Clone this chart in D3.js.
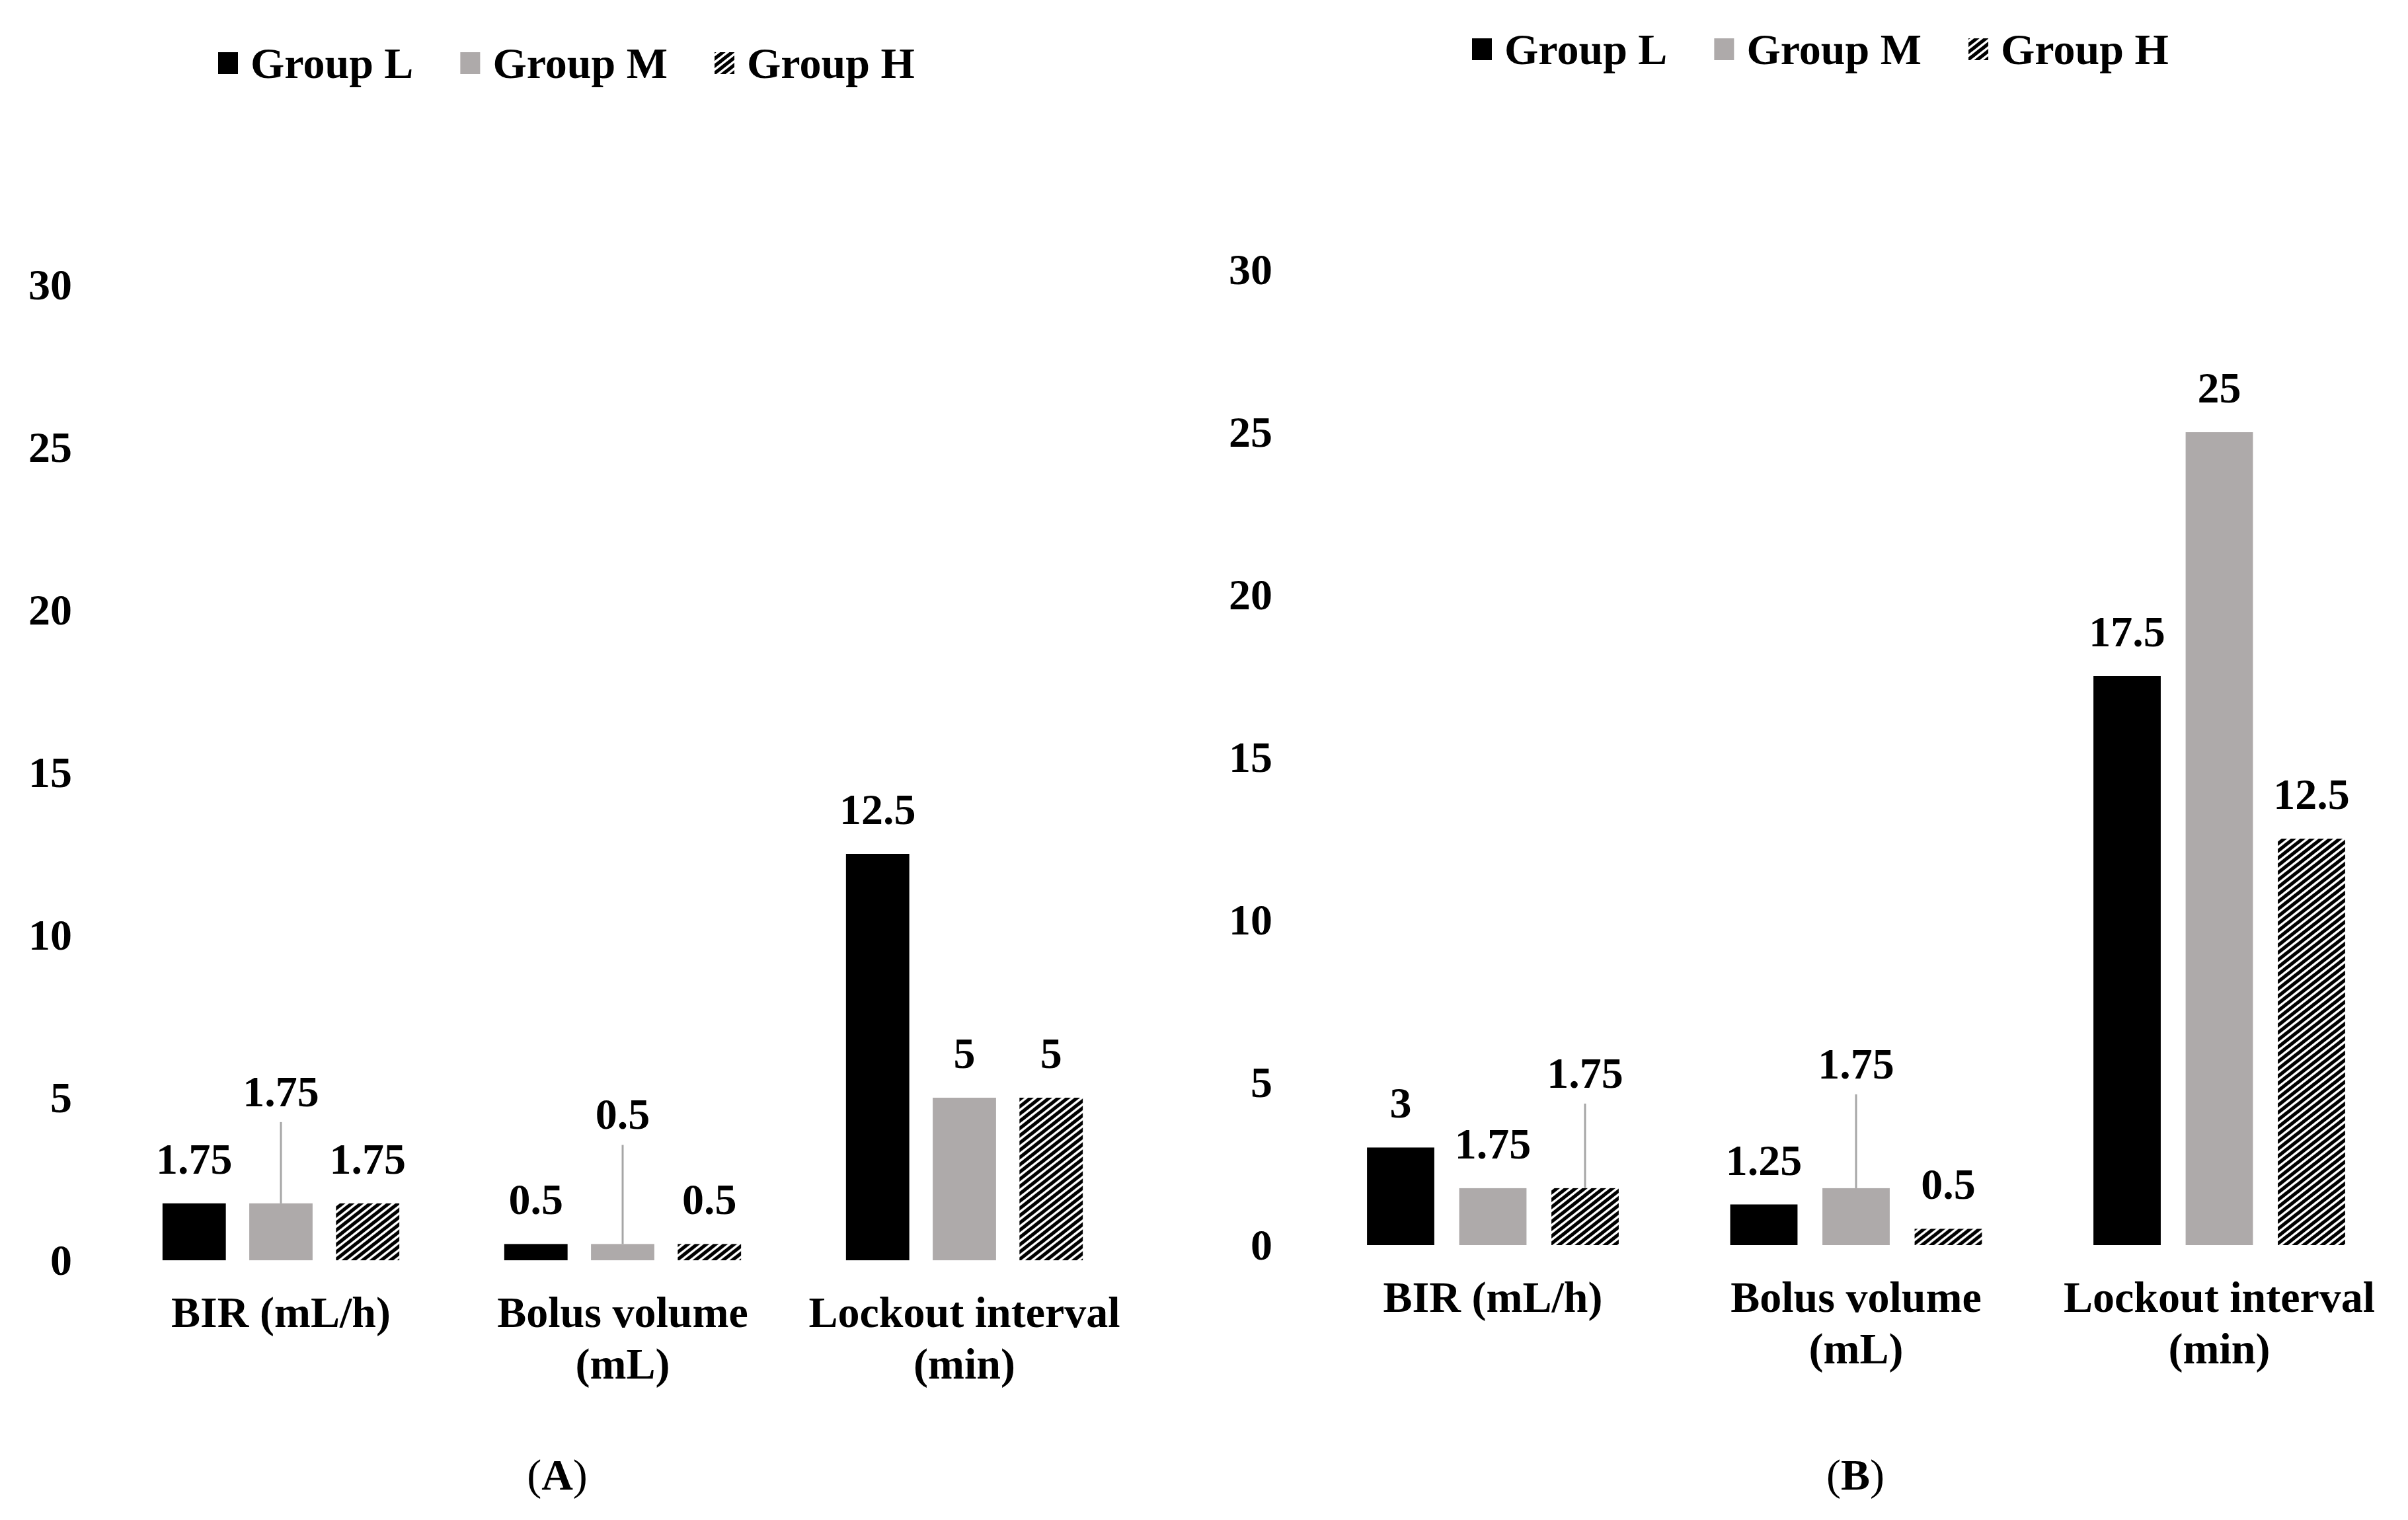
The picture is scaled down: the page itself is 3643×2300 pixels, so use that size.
<!DOCTYPE html>
<html>
<head>
<meta charset="utf-8">
<script src="https://cdn.jsdelivr.net/npm/d3@7"></script>
<style>
    body { margin: 0; background: #fff; }
    svg { display: block; }
    text { font-family: "Liberation Serif", "Times New Roman", serif; font-weight: bold; fill: #000; }
</style>
</head>
<body>
<div id="chart"></div>
<script>
// Data
const categories = ["BIR (mL/h)", "Bolus volume (mL)", "Lockout interval (min)"];
const groups = ["Group L", "Group M", "Group H"];
const yTicks = [0, 5, 10, 15, 20, 25, 30];

const panelA_L = [1.75, 0.5, 12.5];
const panelA_M = [1.75, 0.5, 5];
const panelA_H = [1.75, 0.5, 5];

const panelB_L = [3, 1.25, 17.5];
const panelB_M = [1.75, 1.75, 25];
const panelB_H = [1.75, 0.5, 12.5];

const W = 3643, H = 2300;
const FONT = 66;
const colors = { "Group L": "#000000", "Group M": "#aeaaaa", "Group H": "url(#hatch)" };

const svg = d3.select("#chart").append("svg")
    .attr("width", W)
    .attr("height", H)
    .attr("viewBox", `0 0 ${W} ${H}`);

svg.append("rect").attr("width", W).attr("height", H).attr("fill", "#fff");

// Wide upward diagonal hatch
const pw = 14, ph = 11;
svg.append("defs").append("pattern")
    .attr("id", "hatch")
    .attr("patternUnits", "userSpaceOnUse")
    .attr("width", pw).attr("height", ph)
    .call(p => {
        p.append("rect").attr("width", pw).attr("height", ph).attr("fill", "#fff");
        p.append("path")
            .attr("d", `M0,${ph} L${pw},0 M${-pw / 2},${ph / 2} L${pw / 2},${-ph / 2} M${pw / 2},${ph * 1.5} L${pw * 1.5},${ph / 2}`)
            .attr("stroke", "#000")
            .attr("stroke-width", 5.3);
    });

// simple greedy word wrap
function wrap(sel, maxWidth, lineHeight) {
    sel.each(function () {
        const text = d3.select(this);
        const words = text.text().split(" ");
        text.text(null);
        let line = [];
        let tspan = text.append("tspan").attr("x", 0).attr("dy", 0);
        words.forEach(w => {
            line.push(w);
            tspan.text(line.join(" "));
            if (tspan.node().getComputedTextLength() > maxWidth && line.length > 1) {
                line.pop();
                tspan.text(line.join(" "));
                line = [w];
                tspan = text.append("tspan").attr("x", 0).attr("dy", lineHeight).text(w);
            }
        });
    });
}

function drawPanel(opts) {
    const series = { "Group L": opts.L, "Group M": opts.M, "Group H": opts.H };
    const rows = categories.map((c, i) => ({ cat: c, i: i, vals: groups.map(g => ({ group: g, value: series[g][i] })) }));

    const x0 = d3.scaleBand()
        .domain(categories)
        .range(opts.xRange)
        .paddingInner(0.307)
        .paddingOuter(0.1535);

    const x1 = d3.scaleBand()
        .domain(groups)
        .range([0, x0.bandwidth()])
        .paddingInner(0.27);

    const y = d3.scaleLinear()
        .domain([0, 30])
        .range([opts.y0, opts.y0 - 30 * 49.2]);

    const g = svg.append("g");

    // y axis: labels only
    g.append("g")
        .attr("transform", `translate(${opts.axisX},0)`)
        .call(d3.axisLeft(y).tickValues(yTicks).tickSize(0).tickPadding(0))
        .call(a => a.select(".domain").remove())
        .selectAll("text")
        .attr("font-size", FONT)
        .attr("fill", "#000");

    // bars
    const cat = g.selectAll(".cat")
        .data(rows)
        .enter().append("g")
        .attr("class", "cat")
        .attr("transform", d => `translate(${x0(d.cat)},0)`);

    cat.selectAll("rect")
        .data(d => d.vals.map(v => Object.assign({ i: d.i }, v)))
        .enter().append("rect")
        .attr("x", d => x1(d.group))
        .attr("y", d => y(d.value))
        .attr("width", x1.bandwidth())
        .attr("height", d => y(0) - y(d.value))
        .attr("fill", d => colors[d.group]);

    // value labels, some moved up with a leader line
    cat.each(function (d) {
        const c = d3.select(this);
        d.vals.forEach(v => {
            const cx = x1(v.group) + x1.bandwidth() / 2;
            const lift = opts.lifts[`${d.i}-${v.group}`] || 0;
            const base = y(v.value) - 45 - lift;
            if (lift) {
                c.append("line")
                    .attr("x1", cx).attr("x2", cx)
                    .attr("y1", y(v.value))
                    .attr("y2", base + 24)
                    .attr("stroke", "#a6a6a6")
                    .attr("stroke-width", 3);
            }
            c.append("text")
                .attr("x", cx)
                .attr("y", base)
                .attr("text-anchor", "middle")
                .attr("font-size", FONT)
                .text(v.value);
        });
    });

    // category labels
    cat.append("text")
        .attr("transform", d => `translate(${x0.bandwidth() / 2},${y(0) + 101})`)
        .attr("text-anchor", "middle")
        .attr("font-size", FONT)
        .text(d => d.cat)
        .call(wrap, 500, 78);

    // legend
    const leg = g.append("g").attr("transform", `translate(${opts.legendX},${opts.legendY})`);
    let lx = 0;
    groups.forEach(gr => {
        leg.append("rect")
            .attr("x", lx).attr("y", -39)
            .attr("width", 30).attr("height", 33)
            .attr("fill", colors[gr]);
        const t = leg.append("text")
            .attr("x", lx + 49)
            .attr("y", 0)
            .attr("font-size", FONT)
            .text(gr);
        lx += 49 + t.node().getComputedTextLength() + 71;
    });

    // panel caption
    const cap = g.append("text")
        .attr("x", opts.captionX)
        .attr("y", 2254)
        .attr("text-anchor", "middle")
        .attr("font-size", FONT);
    cap.append("tspan").attr("font-weight", "normal").text("(");
    cap.append("tspan").text(opts.caption);
    cap.append("tspan").attr("font-weight", "normal").text(")");
}

drawPanel({
    L: panelA_L, M: panelA_M, H: panelA_H,
    xRange: [166.5, 1717.5], y0: 1907, axisX: 109,
    legendX: 330, legendY: 118, captionX: 843, caption: "A",
    lifts: { "0-Group M": 102, "1-Group M": 129 }
});

drawPanel({
    L: panelB_L, M: panelB_M, H: panelB_H,
    xRange: [1983.75, 3632.25], y0: 1884, axisX: 1925,
    legendX: 2227, legendY: 97, captionX: 2807, caption: "B",
    lifts: { "0-Group H": 107, "1-Group M": 121 }
});
</script>
</body>
</html>
